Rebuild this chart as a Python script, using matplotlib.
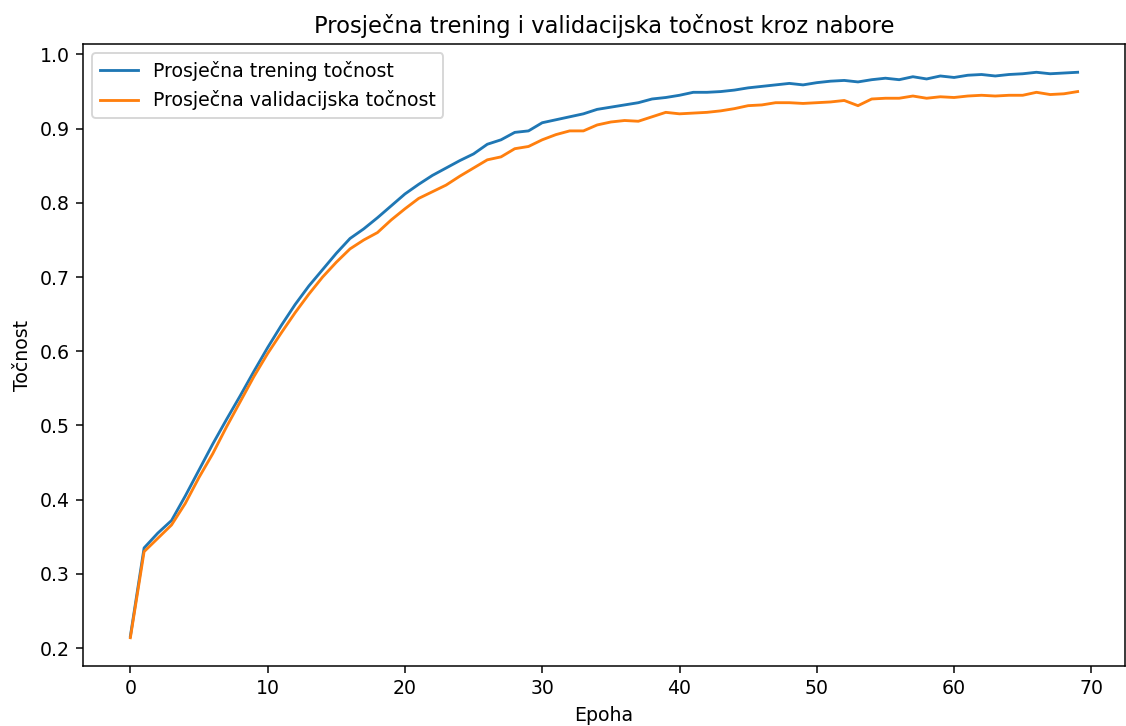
import matplotlib
matplotlib.use("Agg")
import matplotlib.pyplot as plt

epochs = list(range(70))
train_acc = [0.216, 0.335, 0.355, 0.372, 0.405, 0.440, 0.475, 0.508, 0.540, 0.573,
             0.605, 0.635, 0.663, 0.688, 0.710, 0.732, 0.752, 0.765, 0.780, 0.796,
             0.812, 0.825, 0.837, 0.847, 0.857, 0.866, 0.879, 0.885, 0.895, 0.897,
             0.908, 0.912, 0.916, 0.920, 0.926, 0.929, 0.932, 0.935, 0.940, 0.942,
             0.945, 0.949, 0.949, 0.950, 0.952, 0.955, 0.957, 0.959, 0.961, 0.959,
             0.962, 0.964, 0.965, 0.963, 0.966, 0.968, 0.966, 0.970, 0.967, 0.971,
             0.969, 0.972, 0.973, 0.971, 0.973, 0.974, 0.976, 0.974, 0.975, 0.976]
val_acc = [0.214, 0.330, 0.348, 0.366, 0.395, 0.430, 0.462, 0.498, 0.532, 0.566,
           0.597, 0.625, 0.652, 0.677, 0.700, 0.720, 0.738, 0.750, 0.760, 0.777,
           0.792, 0.806, 0.815, 0.824, 0.836, 0.847, 0.858, 0.862, 0.873, 0.876,
           0.885, 0.892, 0.897, 0.897, 0.905, 0.909, 0.911, 0.910, 0.916, 0.922,
           0.920, 0.921, 0.922, 0.924, 0.927, 0.931, 0.932, 0.935, 0.935, 0.934,
           0.935, 0.936, 0.938, 0.931, 0.940, 0.941, 0.941, 0.944, 0.941, 0.943,
           0.942, 0.944, 0.945, 0.944, 0.945, 0.945, 0.949, 0.946, 0.947, 0.950]

DPI = 136
W, H = 1126, 726
fig = plt.figure(figsize=(W / DPI, H / DPI), dpi=DPI)
ax = fig.add_axes([83 / W, 1 - 666 / H, (1125 - 83) / W, (666 - 44) / H])
ax.plot(epochs, train_acc, label="Prosječna trening točnost")
ax.plot(epochs, val_acc, label="Prosječna validacijska točnost")
ax.set_title("Prosječna trening i validacijska točnost kroz nabore")
ax.set_xlabel("Epoha")
ax.set_ylabel("Točnost")
ax.legend(loc="upper left")
fig.savefig("out.png", dpi=DPI)
